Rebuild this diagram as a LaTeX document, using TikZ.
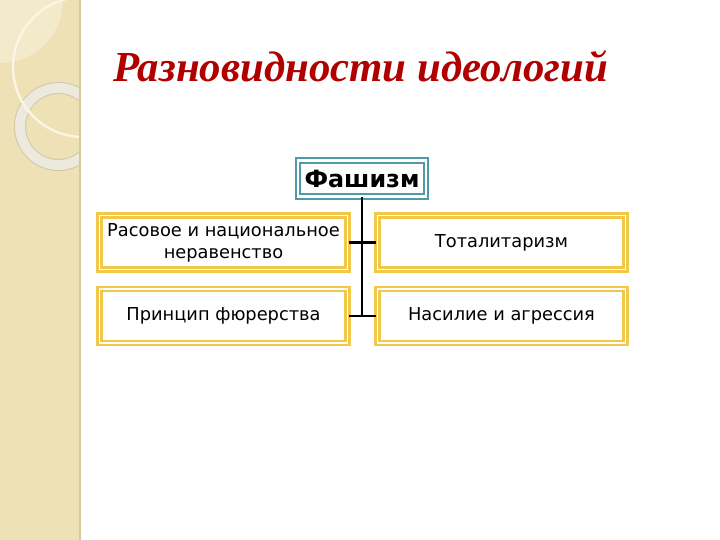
\documentclass[tikz,border=0pt]{standalone}
\usepackage{fontspec}
\setmainfont{DejaVu Sans}
\newfontfamily\titlefont{Liberation Serif}
\usetikzlibrary{positioning}
\definecolor{strip}{HTML}{EFE1B6}
\definecolor{stripline}{HTML}{D6C79C}
\definecolor{ring}{HTML}{EDE9DC}
\definecolor{ringedge}{HTML}{CFC7AE}
\definecolor{arcline}{HTML}{FBF6E4}
\definecolor{titlered}{HTML}{B00000}
\definecolor{teal}{HTML}{4E9BA6}
\definecolor{gold}{HTML}{F2C84B}
\begin{document}
\begin{tikzpicture}[x=0.5pt, y=-0.5pt]
	\tikzstyle{head}=[draw=teal, double=white, line width=1pt, double distance=1.4pt,
	                  fill=white, font=\bfseries\fontsize{11.9}{14}\selectfont,
	                  minimum width=64pt, minimum height=18pt, inner sep=1pt];
	\tikzstyle{item}=[draw=gold, double=white, line width=1.2pt, double distance=0.7pt,
	                  fill=white, font=\fontsize{8.9}{11}\selectfont, align=center,
	                  minimum width=124pt, minimum height=27pt, inner sep=1pt];
	\tikzstyle{link}=[line width=1.1pt, black];
	\useasboundingbox (0,0) rectangle (720,540);
	% left strip
	\fill[white] (0,0) rectangle (720,540);
	\fill[strip] (0,0) rectangle (80,540);
	\begin{scope}
	\clip (0,0) rectangle (80,540);
	\fill[white, opacity=0.3] (0,0) -- (63,0) arc (0:90:63) -- cycle;
	\draw[ringedge, line width=6pt] (58.5,126.5) circle (38.5);
	\draw[ring, line width=5pt] (58.5,126.5) circle (38.5);
	\draw[arcline, line width=1.2pt] (83,67) circle (70);
	\end{scope}
	\draw[stripline, line width=0.8pt] (80,0) -- (80,540);
	% title
	\node[anchor=base west, text=titlered, inner sep=0pt,
	      font=\titlefont\bfseries\itshape\fontsize{21.4}{26}\selectfont]
	      (title) at (113,82) {Разновидности идеологий};
	% boxes
	\node[head] (fashizm) at (362,178.5) {Фашизм};
	\node[item] (rasa) at (223.5,242.5) {Расовое и национальное\\неравенство};
	\node[item] (total) at (501.5,242.5) {Тоталитаризм};
	\node[item] (fuerer) at (223.5,316) {Принцип фюрерства};
	\node[item] (nasilie) at (501.5,316) {Насилие и агрессия};
	% connectors
	\coordinate (spine) at (fashizm.south |- fuerer.east);
	\draw[link] (fashizm.south) -- (spine);
	\draw[link] (rasa.east) -- (total.west);
	\draw[link] (fuerer.east) -- (nasilie.west);
\end{tikzpicture}
\end{document}
